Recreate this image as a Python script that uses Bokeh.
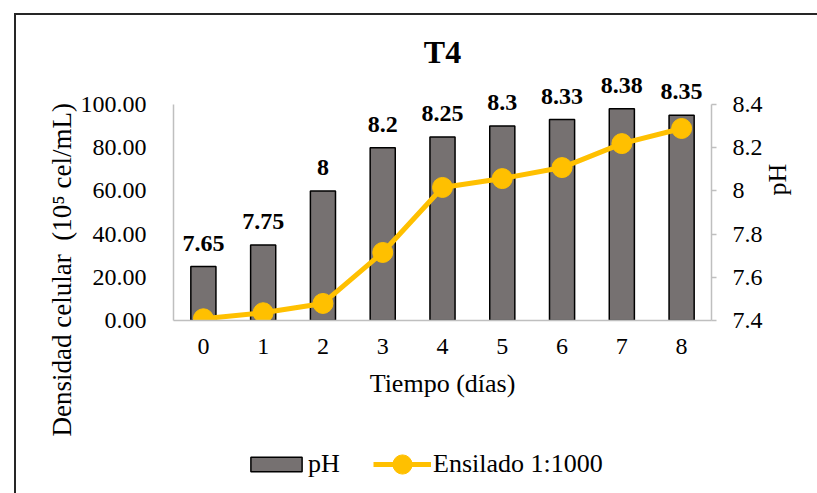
import math

from bokeh.core.properties import value
from bokeh.embed import file_html
from bokeh.layouts import column
from bokeh.models import (ColumnDataSource, CustomJSTickFormatter, FixedTicker,
                          LabelSet, Legend, LegendItem, LinearAxis,
                          PrintfTickFormatter, Range1d, Title)
from bokeh.plotting import figure
from bokeh.resources import INLINE

# --- data -------------------------------------------------------------------
days = [0, 1, 2, 3, 4, 5, 6, 7, 8]
ph_values = [7.65, 7.75, 8.0, 8.2, 8.25, 8.3, 8.33, 8.38, 8.35]
cell_density = [0.8, 3.6, 7.9, 31.5, 61.6, 65.7, 70.8, 81.9, 88.9]

density_ticks = [0, 20, 40, 60, 80, 100]
ph_ticks = [7.4, 7.6, 7.8, 8.0, 8.2, 8.4]

chart_title = "T4"
x_title = "Tiempo (días)"
y_title = "Densidad celular\u00a0 (10⁵ cel/mL)"
y2_title = "pH"
bar_name = "pH"
line_name = "Ensilado 1:1000"

FONT = "Liberation Serif"
BAR_FILL = "#767171"
LINE_COLOR = "#FFC000"
AXIS_GRAY = "#BFBFBF"
FRAME_LINE = "#262626"

# --- geometry ---------------------------------------------------------------
W, H = 817, 493
FRAME_TOP, AXIS_TOP, FRAME_BOTTOM = 70, 104, 320
FRAME_LEFT, FRAME_RIGHT = 173, 711
LEGEND_H = 60
# the plotting area reaches a little above the axes so the value labels
# have room; both vertical axes stay bounded to their tick span
headroom = (FRAME_BOTTOM - FRAME_TOP) / (FRAME_BOTTOM - AXIS_TOP)
dens_lo, dens_hi = density_ticks[0], density_ticks[-1]
ph_lo, ph_hi = ph_ticks[0], ph_ticks[-1]
# trailing no-break spaces push the centred left title further down
y_title_padded = y_title + "\u00a0" * 22

border_css = (
    f"linear-gradient({FRAME_LINE},{FRAME_LINE}) 14px 13px / 2px 480px no-repeat, "
    f"linear-gradient({FRAME_LINE},{FRAME_LINE}) 14px 13px / 803px 2px no-repeat, "
    "#ffffff"
)

p = figure(
    width=W, height=H,
    x_range=Range1d(-0.5, days[-1] + 0.5),
    y_range=Range1d(dens_lo, dens_lo + (dens_hi - dens_lo) * headroom),
    min_border_left=FRAME_LEFT, min_border_right=W - FRAME_RIGHT,
    min_border_top=FRAME_TOP, min_border_bottom=H - FRAME_BOTTOM,
    toolbar_location=None, output_backend="svg",
    outline_line_color=None,
    background_fill_alpha=0, border_fill_alpha=0,
    styles={"background": border_css},
)
p.extra_y_ranges = {"ph": Range1d(ph_lo, ph_lo + (ph_hi - ph_lo) * headroom)}
p.grid.visible = False
p.title = Title(text=chart_title, align="center", offset=-5, standoff=2,
                text_font=FONT, text_font_style="bold", text_font_size="32px",
                text_color="black")

xaxis = p.xaxis[0]
yaxis = p.yaxis[0]
y2axis = LinearAxis(y_range_name="ph")
p.add_layout(y2axis, "right")

for ax in (xaxis, yaxis, y2axis):
    ax.axis_line_color = AXIS_GRAY
    ax.axis_line_width = 1.5
    ax.major_label_text_font = FONT
    ax.major_label_text_font_size = "24px"
    ax.major_label_text_color = "black"
    ax.minor_tick_line_color = None
    ax.axis_label_text_font = FONT
    ax.axis_label_text_font_size = "26px"
    ax.axis_label_text_font_style = "normal"
    ax.axis_label_text_color = "black"

xaxis.ticker = FixedTicker(ticks=days)
xaxis.major_tick_line_color = None
xaxis.major_label_standoff = 12
xaxis.axis_label = x_title
xaxis.axis_label_standoff = 12

yaxis.bounds = (dens_lo, dens_hi)
yaxis.ticker = FixedTicker(ticks=density_ticks)
yaxis.formatter = PrintfTickFormatter(format="%.2f")
yaxis.major_tick_line_color = None
yaxis.major_label_standoff = 21
yaxis.axis_label = y_title_padded
yaxis.axis_label_text_font_size = "27px"
yaxis.axis_label_standoff = 1

y2axis.bounds = (ph_lo, ph_hi)
y2axis.ticker = FixedTicker(ticks=ph_ticks)
y2axis.formatter = CustomJSTickFormatter(code="return String(Math.round(tick * 10) / 10);")
y2axis.major_tick_line_color = AXIS_GRAY
y2axis.major_tick_line_width = 1.5
y2axis.major_tick_in = 0
y2axis.major_tick_out = 5
y2axis.major_label_standoff = 16
y2axis.axis_label = y2_title
y2axis.axis_label_standoff = 12
if "axis_label_orientation" in y2axis.properties():
    # read bottom-to-top, ending just above the middle of the pH scale
    y2axis.axis_label_orientation = math.pi / 2
    y2axis.axis_label_text_align = "right"

# --- marks ------------------------------------------------------------------
src = ColumnDataSource(dict(
    day=days,
    ph=ph_values,
    density=cell_density,
    ph_label=[f"{v:g}" for v in ph_values],
))

bar_style = dict(fill_color=BAR_FILL, line_color="black", line_width=1.5)
line_style = dict(line_color=LINE_COLOR, line_width=5)
dot_style = dict(size=20, fill_color=LINE_COLOR, line_color=LINE_COLOR)

p.vbar(x="day", top="ph", bottom=ph_lo, width=0.42, source=src,
       y_range_name="ph", **bar_style)
p.line("day", "density", source=src, **line_style)
p.scatter("day", "density", source=src, **dot_style)

p.add_layout(LabelSet(
    x="day", y="ph", text="ph_label", source=src, y_range_name="ph",
    text_align="center", text_baseline="bottom", y_offset=16,
    text_font=value(FONT), text_font_style="bold", text_font_size="24px",
    text_color="black",
))

# --- legend strip, laid over the bottom of the chart ------------------------
# (the column aligns this strip's frame with the chart's frame, so legend
# positions are measured from the chart's left axis)
q = figure(
    width=W, height=LEGEND_H,
    x_range=Range1d(0, 1), y_range=Range1d(0, 1),
    x_axis_location=None, y_axis_location=None,
    min_border=0, min_border_left=0, min_border_right=0,
    min_border_top=0, min_border_bottom=0,
    toolbar_location=None, output_backend="svg",
    outline_line_color=None,
    background_fill_alpha=0, border_fill_alpha=0,
    margin=(-LEGEND_H, 0, 0, 0),
)
q.grid.visible = False
# hidden stand-ins with the chart's styles, drawn only as legend swatches
bar_key = q.vbar(x="day", top="ph", bottom=ph_lo, width=0.42, source=src,
                 visible=False, **bar_style)
line_key = q.line("day", "density", source=src, visible=False, **line_style)
dot_key = q.scatter("day", "density", source=src, visible=False, **dot_style)

common = dict(orientation="horizontal", padding=0, margin=0, spacing=0,
              border_line_color=None, background_fill_alpha=0,
              label_text_font=FONT, label_text_font_size="26px",
              label_text_color="black")
leg_bar = Legend(items=[LegendItem(label=bar_name, renderers=[bar_key])],
                 location=(71, 14), glyph_width=64, glyph_height=18,
                 label_standoff=0, **common)
leg_line = Legend(items=[LegendItem(label=line_name, renderers=[line_key, dot_key])],
                  location=(200, 5), glyph_width=58, glyph_height=48,
                  label_standoff=2, **common)
q.add_layout(leg_bar)
q.add_layout(leg_line)

open("out.html", "w").write(file_html(column(p, q), INLINE))
